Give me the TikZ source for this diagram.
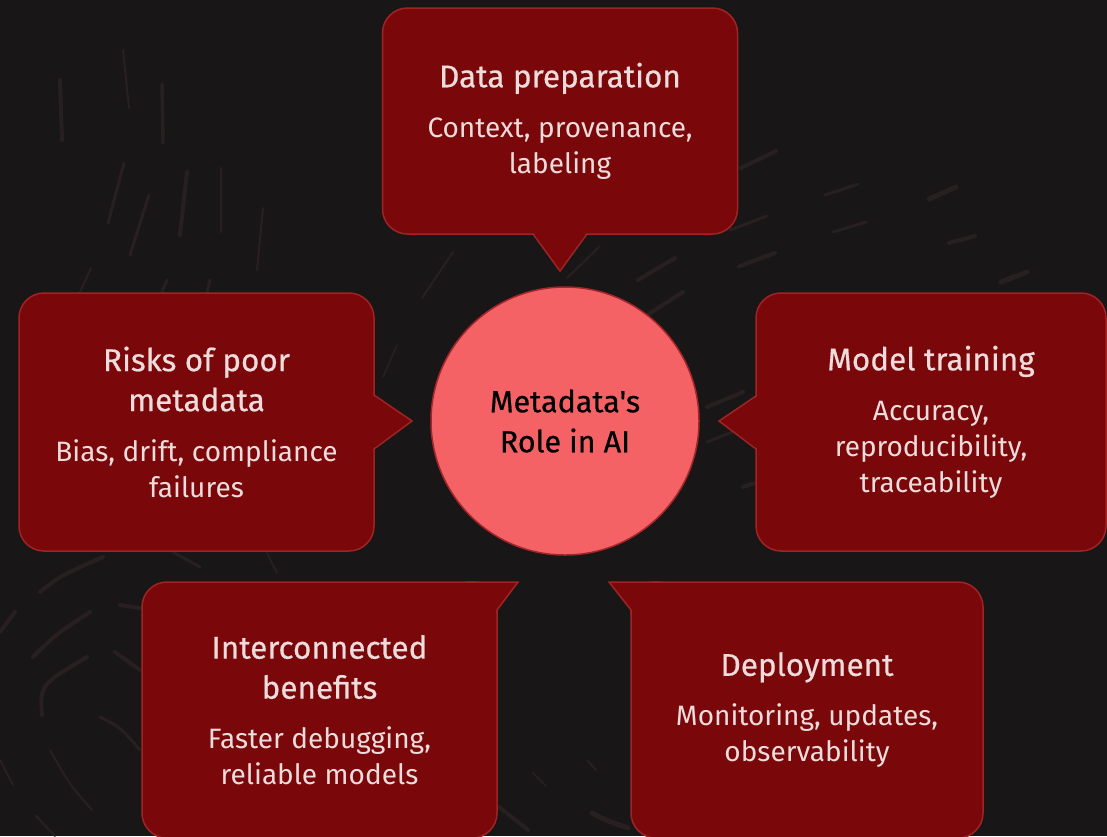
\documentclass[tikz,border=0pt]{standalone}
\usepackage{fontspec}
\setmainfont{Fira Sans}
\newfontfamily\headfont{Fira Sans}[FakeBold=0.5]

\definecolor{canvas}{HTML}{181617}
\definecolor{cardfill}{HTML}{7A0709}
\definecolor{cardedge}{HTML}{A12323}
\definecolor{hubfill}{HTML}{F46265}
\definecolor{hubedge}{HTML}{A3262A}
\definecolor{cardtext}{HTML}{EEDCDC}
\definecolor{streak}{HTML}{282020}

% title block and description block of a card (fixed word spacing)
\newcommand\cardhead[1]{{\headfont\fontsize{31.5}{40}\selectfont\spaceskip=0.27em\relax #1\par}\vspace{14pt}}
\newcommand\cardbody[1]{{\fontsize{28}{36}\selectfont\spaceskip=0.27em\relax #1\par}}

\tikzset{
  card/.style={draw=cardedge, line width=1.5pt, fill=cardfill, rounded corners=25pt,
    text=cardtext, align=center, text width=340pt, inner sep=0pt,
    minimum width=355pt, minimum height=258pt},
  tail/.style={draw=cardedge, line width=1.5pt, line join=miter},
  tailfill/.style={fill=cardfill},
  hubnode/.style={circle, draw=hubedge, fill=hubfill, line width=1.5pt,
    minimum size=268pt, inner sep=0pt, align=center, text=black,
    font=\headfont\fontsize{30.5}{40}\selectfont},
  streakline/.style={draw=streak, line cap=round, line width=#1},
  streakline/.default=3pt
}

\begin{document}
\begin{tikzpicture}[x=1pt,y=-1pt]
\useasboundingbox (0,0) rectangle (1107,836);
\clip (0,0) rectangle (1107,836);
\fill[canvas] (0,0) rectangle (1107,836);

% faint brush streaks in the background
\draw[streakline=4pt] (60,80) -- (62,140);
\draw[streakline=2pt] (123,50) -- (129,108);
\draw[streakline=3.5pt] (162,84) -- (163,143);
\draw[streakline=3pt] (124,163) -- (108,223);
\draw[streakline=3pt] (149,195) -- (130,255);
\draw[streakline=4pt] (187,172) -- (180,235);
\draw[streakline=2.5pt] (221,168) -- (221,232);
\draw[streakline=2pt] (263,208) -- (257,270);
\draw[streakline=2pt] (91,268) -- (80,292);
\draw[streakline=3pt] (167,280) -- (162,292);
\draw[streakline=3pt] (210,280) -- (207,292);
\draw[streakline=2pt] (422,298) -- (453,252);
\draw[streakline=2pt] (567,278) -- (600,246);
\draw[streakline=4pt] (638,280) -- (675,258);
\draw[streakline=4pt] (647,315) -- (683,292);
\draw[streakline=3pt] (738,267) -- (767,255);
\draw[streakline=4pt] (741,168) -- (776,151);
\draw[streakline=3pt] (825,195) -- (858,184);
\draw[streakline=5pt] (929,199) -- (956,187);
\draw[streakline=3pt] (730,230) -- (767,216);
\draw[streakline=3pt] (833,232) -- (866,222);
\draw[streakline=4pt] (949,243) -- (975,236);
\draw[streakline=4pt] (740,266) -- (775,253);
\draw[streakline=5pt] (1001,282) -- (1027,272);
\draw[streakline=4pt] (707,407) -- (743,392);
\draw[streakline=3pt] (707,442) -- (733,432);
\draw[streakline=4pt] (743,487) -- (755,483);
\draw[streakline=1.5pt] (397,345) -- (383,377);
\draw[streakline=4pt] (40,592) .. controls (60,576) .. (103,557);
\draw[streakline=4pt] (33,657) .. controls (55,635) .. (90,612);
\draw[streakline=4pt] (42,715) .. controls (40,685) .. (87,657);
\draw[streakline=4pt] (0,632) -- (15,612);
\draw[streakline=4pt] (120,605) -- (140,608);
\draw[streakline=4pt] (115,652) -- (140,670);
\draw[streakline=3pt] (100,717) .. controls (120,727) .. (140,750);
\draw[streakline=2pt] (50,750) .. controls (70,785) .. (92,810);
\draw[streakline=2pt] (0,760) -- (13,785);
\draw[streakline=2pt] (35,815) -- (55,836);
\draw[streakline=3pt] (173,552) -- (200,567);
\draw[streakline=2pt] (267,553) -- (277,573);
\draw[streakline=2pt] (533,773) -- (546,786);
\draw[streakline=2pt] (587,760) -- (596,770);
\draw[streakline=5pt] (592,813) .. controls (605,820) .. (628,828);
\draw[streakline=4pt] (499,807) -- (528,830);

% central hub
\node[hubnode] (hub) at (565,421) {Metadata's\\Role in AI};

% cards around the hub
\node[card, minimum height=226pt] (prep) at (560,121)
  {\cardhead{Data preparation}\cardbody{Context, provenance,\\labeling}};
\node[card] (risk) at (196.5,422)
  {\cardhead{Risks of poor\\metadata}\cardbody{Bias, drift, compliance\\failures}};
\node[card, minimum width=350pt] (train) at (931,422)
  {\cardhead{Model training}\cardbody{Accuracy,\\reproducibility,\\traceability}};
\node[card, minimum height=256pt] (bene) at (319.5,710)
  {\cardhead{Interconnected\\benefits}\cardbody{Faster debugging,\\reliable models}};
\node[card, minimum width=352pt, minimum height=256pt] (deploy) at (807,710)
  {\cardhead{Deployment}\cardbody{Monitoring, updates,\\observability}};

% speech-bubble tails pointing at the hub
\fill[tailfill] (533,232) -- (560,271) -- (587,232) -- cycle;
\draw[tail] (533,234) -- (560,271) -- (587,234);

\fill[tailfill] (372,395) -- (412,421) -- (372,449) -- cycle;
\draw[tail] (374,395) -- (412,421) -- (374,449);

\fill[tailfill] (758,396) -- (719,421) -- (758,449) -- cycle;
\draw[tail] (756,396) -- (719,421) -- (756,449);

\fill[tailfill] (466,582) -- (518,582) -- (497,610) -- (466,610) -- cycle;
\draw[tail] (466,582) -- (518,582) -- (497,610) -- (497,614);

\fill[tailfill] (660,582) -- (609,582) -- (631,610) -- (660,610) -- cycle;
\draw[tail] (660,582) -- (609,582) -- (631,610) -- (631,614);
\end{tikzpicture}
\end{document}
